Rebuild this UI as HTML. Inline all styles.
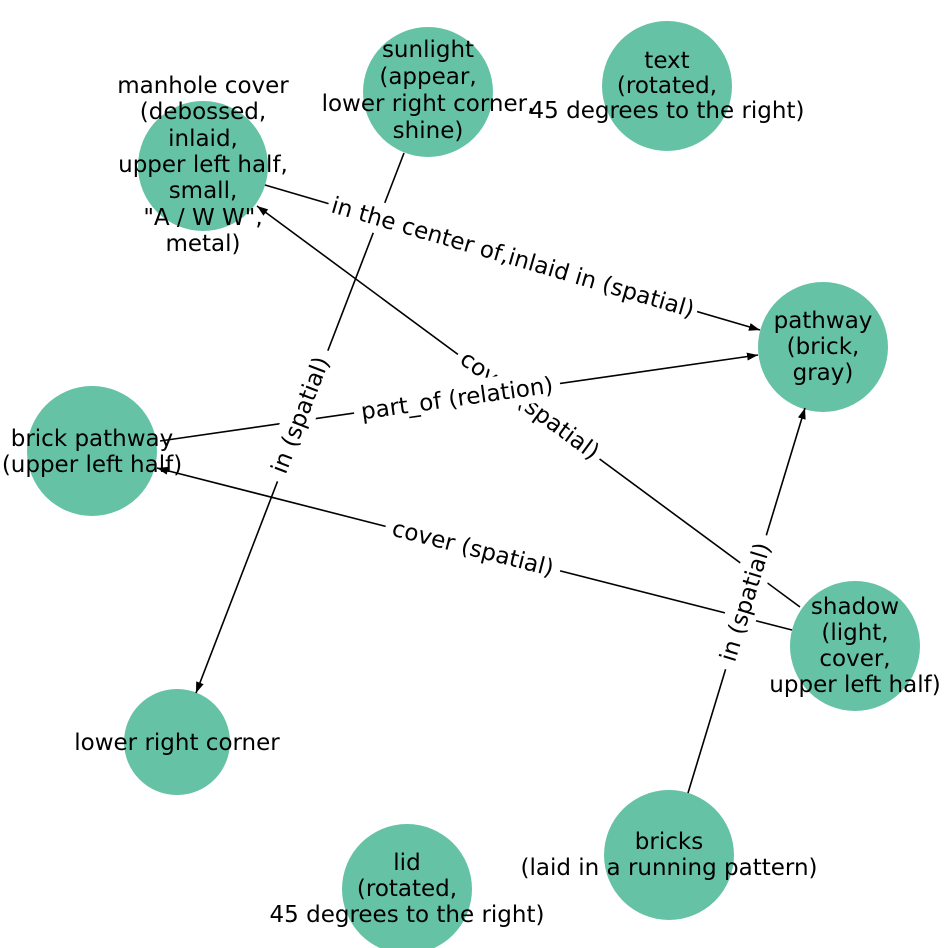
<!DOCTYPE html>
<html><head><meta charset="utf-8"><style>
html,body{margin:0;padding:0;background:#fff;}
svg{display:block;}
text{font-family:"DejaVu Sans","Liberation Sans",sans-serif;font-size:23px;fill:#000;}
</style></head><body>
<svg width="948" height="948" viewBox="0 0 948 948" xmlns="http://www.w3.org/2000/svg">
<defs>
<marker id="a" markerWidth="12" markerHeight="10" refX="11" refY="5" orient="auto" markerUnits="userSpaceOnUse">
<path d="M0,1 L11,5 L0,9 Z" fill="#000"/>
</marker>
</defs>
<g fill="#66c2a5">
<circle cx="203" cy="166" r="65"/>
<circle cx="428" cy="92" r="65"/>
<circle cx="667" cy="86" r="65"/>
<circle cx="823" cy="347" r="65"/>
<circle cx="92" cy="451" r="65"/>
<circle cx="855" cy="646" r="65"/>
<circle cx="177" cy="742" r="53"/>
<circle cx="669" cy="855" r="65"/>
<circle cx="407" cy="889" r="65"/>
</g>
<g stroke="#000" stroke-width="1.6" fill="none">
<line x1="265" y1="185" x2="760" y2="330" marker-end="url(#a)"/>
<line x1="404" y1="153" x2="196" y2="693" marker-end="url(#a)"/>
<line x1="800" y1="607" x2="257" y2="206" marker-end="url(#a)"/>
<line x1="160" y1="441" x2="758" y2="355" marker-end="url(#a)"/>
<line x1="792" y1="630" x2="157" y2="468" marker-end="url(#a)"/>
<line x1="688" y1="793" x2="805" y2="408" marker-end="url(#a)"/>
</g>
<g text-anchor="middle">
<text x="203" y="93">manhole cover</text>
<text x="203" y="119">(debossed,</text>
<text x="203" y="146">inlaid,</text>
<text x="203" y="172">upper left half,</text>
<text x="203" y="198">small,</text>
<text x="203" y="225">"A / W W",</text>
<text x="203" y="251">metal)</text>
<text x="428" y="57">sunlight</text>
<text x="428" y="84">(appear,</text>
<text x="428" y="111">lower right corner,</text>
<text x="428" y="138">shine)</text>
<text x="667" y="68">text</text>
<text x="667" y="93">(rotated,</text>
<text x="667" y="118">45 degrees to the right)</text>
<text x="823" y="328">pathway</text>
<text x="823" y="354">(brick,</text>
<text x="823" y="380">gray)</text>
<text x="92" y="446">brick pathway</text>
<text x="92" y="472">(upper left half)</text>
<text x="855" y="614">shadow</text>
<text x="855" y="640">(light,</text>
<text x="855" y="666">cover,</text>
<text x="855" y="692">upper left half)</text>
<text x="177" y="750">lower right corner</text>
<text x="669" y="849">bricks</text>
<text x="669" y="875">(laid in a running pattern)</text>
<text x="407" y="870">lid</text>
<text x="407" y="896">(rotated,</text>
<text x="407" y="922">45 degrees to the right)</text>
</g>
<g text-anchor="middle">
<g transform="translate(530,405) rotate(36.4)"><rect x="-88" y="-16" width="176" height="32" fill="#fff"/><text y="8">cover (spatial)</text></g>
<g transform="translate(513,257) rotate(16.3)"><rect x="-192" y="-16" width="384" height="32" fill="#fff"/><text y="8">in the center of,inlaid in (spatial)</text></g>
<g transform="translate(300,415) rotate(-69)"><rect x="-70" y="-16" width="140" height="32" fill="#fff"/><text y="8">in (spatial)</text></g>
<g transform="translate(457,398) rotate(-8)"><rect x="-104" y="-16" width="208" height="32" fill="#fff"/><text y="8">part_of (relation)</text></g>
<g transform="translate(473,548) rotate(14.3)"><rect x="-90" y="-16" width="180" height="32" fill="#fff"/><text y="8">cover (spatial)</text></g>
<g transform="translate(745,602) rotate(-73)"><rect x="-70" y="-16" width="140" height="32" fill="#fff"/><text y="8">in (spatial)</text></g>
</g>
</svg>
</body></html>
